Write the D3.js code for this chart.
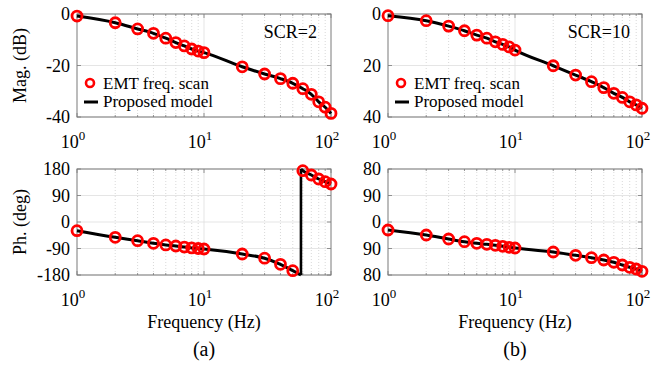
<!DOCTYPE html>
<html>
<head>
<meta charset="utf-8">
<script src="https://cdn.jsdelivr.net/npm/d3@7"></script>
<style>
  body { margin: 0; background: #fff; }
  text { font-family: "Liberation Serif", "Times New Roman", serif; fill: #000; }
</style>
</head>
<body>
<div id="graf"></div>
<script>
// datos
const freqs = [1, 2, 3, 4, 5, 6, 7, 8, 9, 10, 20, 30, 40, 50, 60, 70, 80, 90, 100]
const magScr2 = [-0.8, -3.4, -5.8, -7.5, -9.4, -11.1, -12.4, -13.6, -14.4, -15.0, -20.5, -23.3, -25.1, -26.9, -29.0, -31.2, -34.1, -36.2, -38.6]
const phScr2 = [-29.6, -52, -63.5, -72.5, -78, -81.5, -85, -88, -90, -91.7, -108.7, -123, -143.7, -165.4, 174.2, 159.6, 146, 136.9, 129]
const magScr10 = [-0.65, -2.6, -4.7, -6.5, -8.2, -9.4, -10.8, -11.8, -12.8, -14, -20.1, -23.7, -26.3, -28.6, -30.8, -32.4, -34.1, -35.3, -36.6]
const phScr10 = [-27.2, -44.2, -57.8, -66.9, -72.5, -75.9, -79.3, -82.6, -86, -88.3, -101.9, -113.1, -121.3, -129.1, -136.9, -146, -153.9, -159.7, -167.5]
// salto de fase del modelo (SCR=2)
const wrapFreq = 58

const magTicks = [0, -20, -40]
const phTicks = [180, 90, 0, -90, -180]
const magLabelsA = ["0", "-20", "-40"]
const magLabelsB = ["0", "20", "40"]
const phLabelsA = ["180", "90", "0", "-90", "-180"]
const phLabelsB = ["80", "90", "0", "90", "80"]
const xTicks = [1, 10, 100]
const xExp = ["0", "1", "2"]
const legendNames = ["EMT freq. scan", "Proposed model"]

const svg = d3.select("#graf").append("svg").attr("width", 655).attr("height", 367)

const cols = [[77, 331], [388, 642]]
const rows = [[14, 117], [169, 275]]

const minors = []
for (let d = 1; d <= 10; d *= 10) for (let k = 2; k <= 9; k++) minors.push(d * k)

function panel(col, row, domainY, ticks, labels, ejeTitulo) {
  const x = d3.scaleLog().domain([1, 100]).range(cols[col])
  const y = d3.scaleLinear().domain(domainY).range([rows[row][1], rows[row][0]])
  const g = svg.append("g")
  const [x0, x1] = cols[col], [y0, y1] = rows[row]

  // grid
  g.selectAll(".minor").data(minors).enter().append("line")
    .attr("x1", d => x(d)).attr("x2", d => x(d)).attr("y1", y0).attr("y2", y1)
    .attr("stroke", "#c8c8c8").attr("stroke-width", 0.7).attr("stroke-dasharray", "1,2")
  g.selectAll(".majx").data(xTicks.slice(1, -1)).enter().append("line")
    .attr("x1", d => x(d)).attr("x2", d => x(d)).attr("y1", y0).attr("y2", y1)
    .attr("stroke", "#dedede").attr("stroke-width", 0.8)
  g.selectAll(".majy").data(ticks).enter().append("line")
    .attr("x1", x0).attr("x2", x1).attr("y1", d => y(d)).attr("y2", d => y(d))
    .attr("stroke", "#dedede").attr("stroke-width", 0.8)

  // ticks hacia dentro
  const tk = g.append("g").attr("stroke", "#7a7a7a").attr("stroke-width", 0.8)
  ticks.forEach(t => {
    tk.append("line").attr("x1", x0).attr("x2", x0 + 4).attr("y1", y(t)).attr("y2", y(t))
    tk.append("line").attr("x1", x1).attr("x2", x1 - 4).attr("y1", y(t)).attr("y2", y(t))
  })
  xTicks.forEach(t => {
    tk.append("line").attr("x1", x(t)).attr("x2", x(t)).attr("y1", y1).attr("y2", y1 - 4)
    tk.append("line").attr("x1", x(t)).attr("x2", x(t)).attr("y1", y0).attr("y2", y0 + 4)
  })
  minors.forEach(t => {
    tk.append("line").attr("x1", x(t)).attr("x2", x(t)).attr("y1", y1).attr("y2", y1 - 2)
    tk.append("line").attr("x1", x(t)).attr("x2", x(t)).attr("y1", y0).attr("y2", y0 + 2)
  })

  g.append("rect").attr("x", x0).attr("y", y0).attr("width", x1 - x0).attr("height", y1 - y0)
    .attr("fill", "none").attr("stroke", "#7a7a7a").attr("stroke-width", 1)

  // etiquetas y
  g.selectAll(".yl").data(ticks).enter().append("text")
    .attr("x", x0 - 7).attr("y", d => y(d)).attr("dy", "0.34em")
    .attr("text-anchor", "end").style("font-size", "18px")
    .text((d, i) => labels[i])

  // etiquetas x con exponente
  xTicks.forEach((t, i) => {
    const tx = g.append("text").attr("x", x(t) - 4).attr("y", y1 + 31)
      .attr("text-anchor", "middle").style("font-size", "18px")
    tx.append("tspan").text("10")
    tx.append("tspan").attr("dy", -8).style("font-size", "13px").text(xExp[i])
  })

  if (ejeTitulo) {
    g.append("text")
      .attr("transform", `translate(26, ${(y0 + y1) / 2}) rotate(-90)`)
      .attr("text-anchor", "middle").style("font-size", "18px").text(ejeTitulo)
  }
  return { x, y, g }
}

const linea = (x, y) => d3.line().x(d => x(d[0])).y(d => y(d[1])).curve(d3.curveMonotoneX)

function drawSeries(p, segs, pts, extra) {
  segs.forEach(s => {
    p.g.append("path").datum(s).attr("d", linea(p.x, p.y))
      .attr("fill", "none").attr("stroke", "#000").attr("stroke-width", 3)
  })
  if (extra) extra()
  p.g.selectAll(".pt").data(pts).enter().append("circle")
    .attr("cx", d => p.x(d[0])).attr("cy", d => p.y(d[1])).attr("r", 5)
    .attr("fill", "none").attr("stroke", "#ff0000").attr("stroke-width", 2.8)
}

function legend(p, col) {
  const lx = cols[col][0] + 13
  p.g.append("circle").attr("cx", lx).attr("cy", 83).attr("r", 4)
    .attr("fill", "none").attr("stroke", "#ff0000").attr("stroke-width", 2.6)
  p.g.append("line").attr("x1", lx - 6).attr("x2", lx + 8).attr("y1", 102).attr("y2", 102)
    .attr("stroke", "#000").attr("stroke-width", 3)
  legendNames.forEach((n, i) => {
    p.g.append("text").attr("x", lx + 13).attr("y", 83 + i * 18.5).attr("dy", "0.34em")
      .style("font-size", "17px").text(n)
  })
}

const zip = (a, b) => a.map((v, i) => [v, b[i]])

// (a) SCR=2
const pA = panel(0, 0, [-40, 0], magTicks, magLabelsA, "Mag. (dB)")
drawSeries(pA, [zip(freqs, magScr2)], zip(freqs, magScr2))
legend(pA, 0)
pA.g.append("text").attr("x", 317).attr("y", 32).attr("dy", "0.34em")
  .attr("text-anchor", "end").style("font-size", "18px").text("SCR=2")

const pC = panel(0, 1, [-180, 180], phTicks, phLabelsA, "Ph. (deg)")
const ptsC = zip(freqs, phScr2)
const antes = ptsC.filter(d => d[0] < wrapFreq).concat([[wrapFreq, -180]])
const despues = [[wrapFreq, 180]].concat(ptsC.filter(d => d[0] > wrapFreq))
drawSeries(pC, [antes, despues], ptsC, () => {
  pC.g.append("line").attr("x1", pC.x(wrapFreq)).attr("x2", pC.x(wrapFreq))
    .attr("y1", pC.y(-180)).attr("y2", pC.y(180)).attr("stroke", "#000").attr("stroke-width", 2.6)
})

// (b) SCR=10
const pB = panel(1, 0, [-40, 0], magTicks, magLabelsB, null)
drawSeries(pB, [zip(freqs, magScr10)], zip(freqs, magScr10))
legend(pB, 1)
pB.g.append("text").attr("x", 630).attr("y", 32).attr("dy", "0.34em")
  .attr("text-anchor", "end").style("font-size", "18px").text("SCR=10")

const pD = panel(1, 1, [-180, 180], phTicks, phLabelsB, null)
drawSeries(pD, [zip(freqs, phScr10)], zip(freqs, phScr10))

// titulos de eje x y subfiguras
;[0, 1].forEach(c => {
  const cx = (cols[c][0] + cols[c][1]) / 2
  svg.append("text").attr("x", cx).attr("y", 328).attr("text-anchor", "middle")
    .style("font-size", "18px").text("Frequency (Hz)")
  svg.append("text").attr("x", cx).attr("y", 356).attr("text-anchor", "middle")
    .style("font-size", "20px").text(c === 0 ? "(a)" : "(b)")
})
</script>
</body>
</html>
